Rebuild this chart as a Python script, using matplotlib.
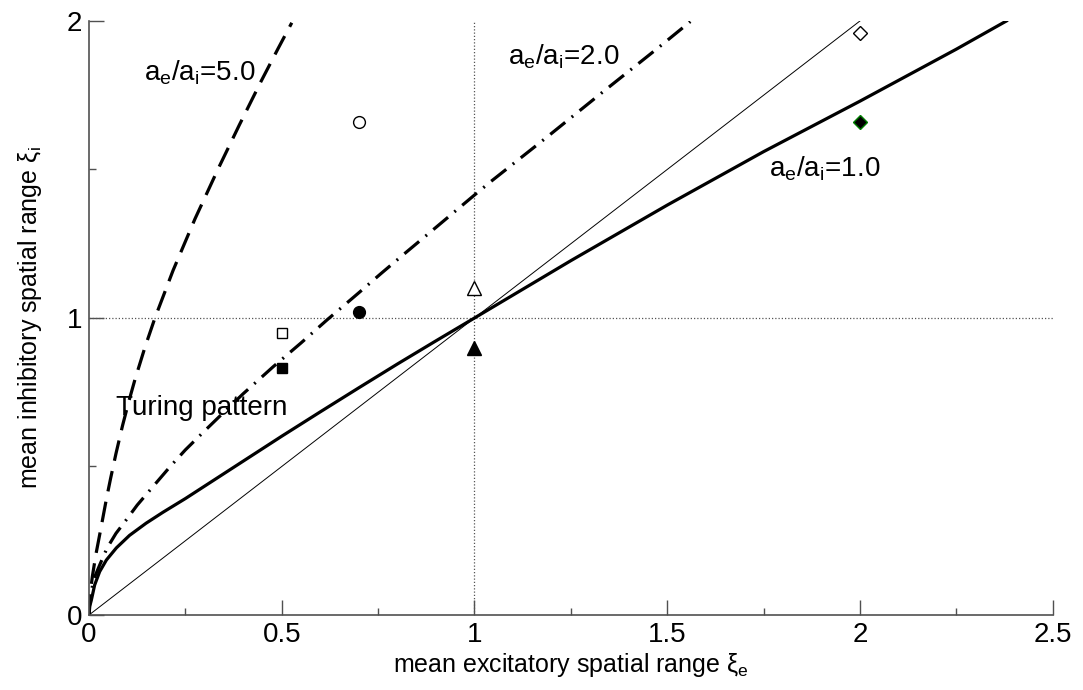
import matplotlib
matplotlib.use("Agg")
import matplotlib.pyplot as plt

plt.rcParams['font.family'] = ['Liberation Sans', 'DejaVu Sans']
plt.rcParams['mathtext.fontset'] = 'custom'
plt.rcParams['mathtext.rm'] = 'Liberation Sans'
plt.rcParams['mathtext.it'] = 'Liberation Sans'

# boundary curves (xi_e, xi_i)
r1_x = [0, 0.002, 0.006, 0.0146, 0.0276, 0.045, 0.071, 0.105, 0.148, 0.192, 0.25, 0.3, 0.4,
        0.5, 0.6, 0.7, 0.8, 0.9, 1.0, 1.25, 1.5, 1.75, 2.0, 2.25, 2.38]
r1_y = [0, 0.03, 0.05, 0.101, 0.146, 0.185, 0.226, 0.268, 0.309, 0.346, 0.392, 0.434, 0.518,
        0.602, 0.684, 0.765, 0.845, 0.923, 1.0, 1.193, 1.38, 1.56, 1.73, 1.905, 2.0]

r2_x = [0, 0.002, 0.012, 0.0276, 0.0466, 0.07, 0.093, 0.125, 0.173, 0.21, 0.25, 0.3, 0.35,
        0.4, 0.477, 0.55, 0.617, 0.7, 0.756, 0.817, 0.9, 1.0, 1.043, 1.187, 1.331, 1.475, 1.56]
r2_y = [0, 0.05, 0.12, 0.168, 0.225, 0.275, 0.314, 0.37, 0.443, 0.499, 0.556, 0.62, 0.683,
        0.745, 0.835, 0.916, 0.993, 1.085, 1.148, 1.215, 1.305, 1.414, 1.46, 1.608, 1.759, 1.908, 1.998]

r5_x = [0, 0.002, 0.0087, 0.018, 0.032, 0.045, 0.056, 0.07, 0.087, 0.103, 0.119, 0.145, 0.171,
        0.218, 0.275, 0.336, 0.39, 0.446, 0.49, 0.526]
r5_y = [0, 0.06, 0.13, 0.205, 0.30, 0.39, 0.46, 0.544, 0.638, 0.718, 0.792, 0.901, 1.0,
        1.16, 1.334, 1.505, 1.65, 1.796, 1.906, 1.994]

diag_x = [0, 2]
diag_y = [0, 2]

# simulation points
pts = [
    # x, y, marker, face, edge
    (0.7, 1.66, 'o', 'white', 'black'),
    (0.7, 1.02, 'o', 'black', 'black'),
    (0.5, 0.95, 's', 'white', 'black'),
    (0.5, 0.83, 's', 'black', 'black'),
    (1.0, 1.10, '^', 'white', 'black'),
    (1.0, 0.90, '^', 'black', 'black'),
    (2.0, 1.96, 'D', 'white', 'black'),
    (2.0, 1.66, 'D', 'black', 'green'),
]
msizes = {'o': 8.5, 's': 7.3, '^': 9.5, 'D': 7.5}

fig = plt.figure(figsize=(10.83, 6.9), dpi=100)
ax = fig.add_axes([0.0822, 0.1087, 0.8898, 0.8609])

ax.axhline(1, color='#555555', lw=0.9, ls=(0, (1, 1.6)))
ax.axvline(1, color='#555555', lw=0.9, ls=(0, (1, 1.6)))

ax.plot(diag_x, diag_y, color='black', lw=0.7)
ax.plot(r1_x, r1_y, color='black', lw=2.3, solid_joinstyle='round')
ax.plot(r2_x, r2_y, color='black', lw=2.3, ls=(0, (6, 2.6, 0.6, 2.6)))
ax.plot(r5_x, r5_y, color='black', lw=2.3, ls=(0, (6.5, 3.3)))

for x, y, m, fc, ec in pts:
    ax.plot([x], [y], marker=m, ms=msizes[m], mfc=fc, mec=ec, mew=1.0, ls='none')

fs = 18
fs_txt = 20
ax.text(0.142, 1.80, r'$\mathrm{a_e/a_i}$=5.0', fontsize=fs_txt)
ax.text(1.088, 1.852, r'$\mathrm{a_e/a_i}$=2.0', fontsize=fs_txt)
ax.text(1.764, 1.476, r'$\mathrm{a_e/a_i}$=1.0', fontsize=fs_txt)
ax.text(0.07, 0.673, 'Turing pattern', fontsize=fs_txt)

ax.set_xlim(0, 2.5)
ax.set_ylim(0, 2)
ax.set_xticks([0, 0.5, 1, 1.5, 2, 2.5])
ax.set_xticklabels(['0', '0.5', '1', '1.5', '2', '2.5'])
ax.set_xticks([0.25, 0.75, 1.25, 1.75, 2.25], minor=True)
ax.set_yticks([0, 1, 2])
ax.set_yticklabels(['0', '1', '2'])
ax.set_yticks([0.5, 1.5], minor=True)

for s in ['top', 'right']:
    ax.spines[s].set_visible(False)
for s in ['left', 'bottom']:
    ax.spines[s].set_color('#505050')
    ax.spines[s].set_linewidth(1.2)

ax.tick_params(which='major', direction='in', length=11, width=1.0, color='#505050',
               labelsize=20, pad=5)
ax.tick_params(which='minor', direction='in', length=5, width=1.0, color='#505050')

ax.set_xlabel(r'mean excitatory spatial range $\mathrm{\xi_e}$', fontsize=fs, labelpad=2)
ax.set_ylabel(r'mean inhibitory spatial range $\mathrm{\xi_i}$', fontsize=fs, labelpad=16)

fig.savefig('out.png', dpi=100)
